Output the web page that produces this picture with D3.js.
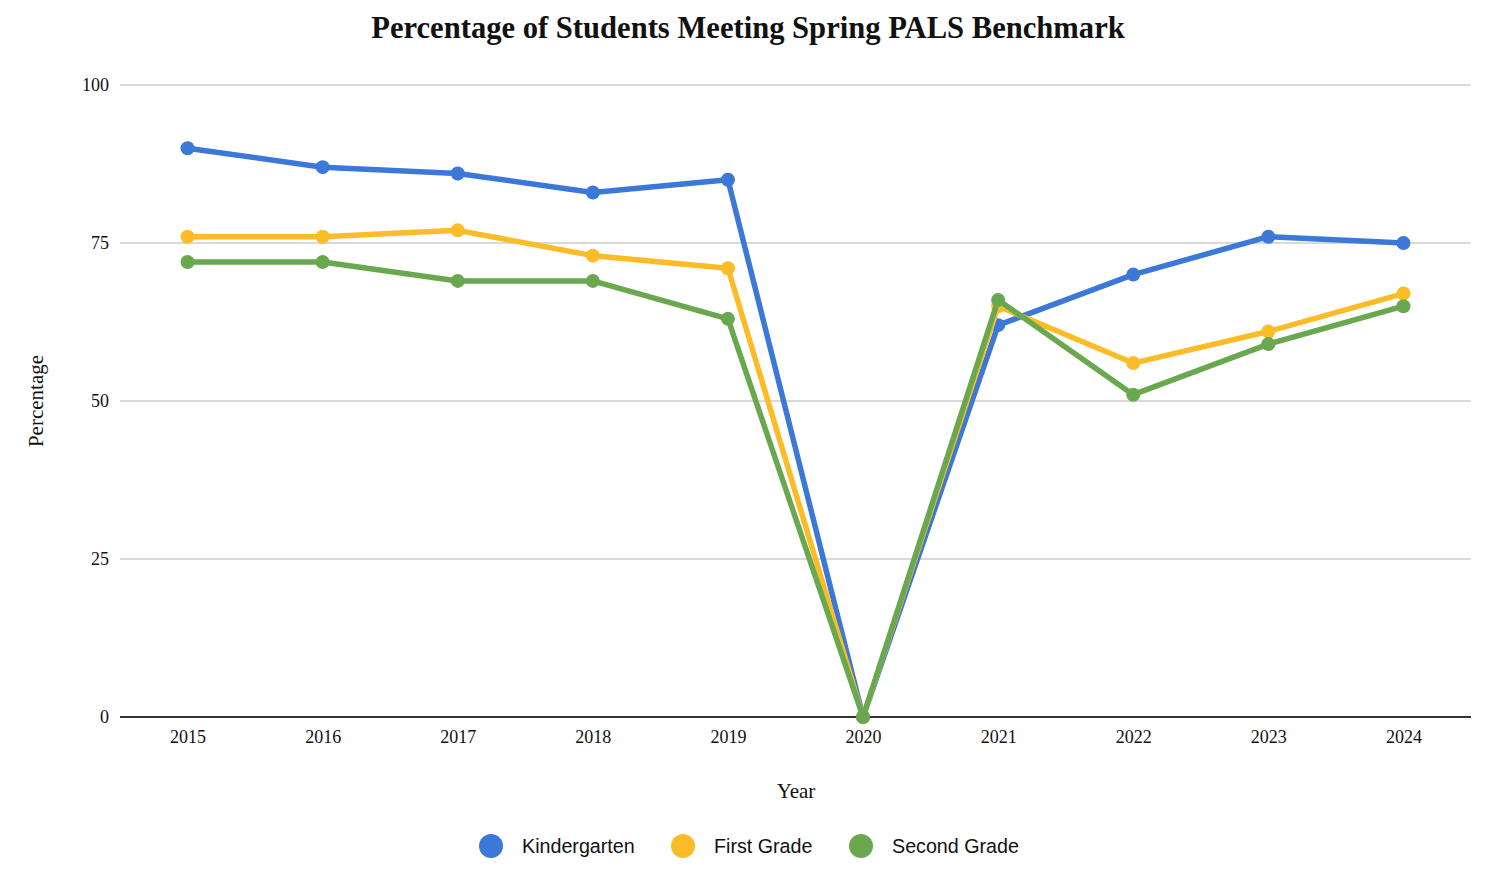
<!DOCTYPE html>
<html>
<head>
<meta charset="utf-8">
<script src="https://cdn.jsdelivr.net/npm/d3@7"></script>
<style>
  body { margin: 0; background: #fff; }
  svg text { fill: #111; }
</style>
</head>
<body>
<div id="chart"></div>
<script>
var years = ['2015', '2016', '2017', '2018', '2019', '2020', '2021', '2022', '2023', '2024'];
var kindergarten = [90, 87, 86, 83, 85, 0, 62, 70, 76, 75];
var firstGrade = [76, 76, 77, 73, 71, 0, 65, 56, 61, 67];
var secondGrade = [72, 72, 69, 69, 63, 0, 66, 51, 59, 65];
var yTicks = [0, 25, 50, 75, 100];
var seriesNames = ['Kindergarten', 'First Grade', 'Second Grade'];
var colors = ['#3c78d8', '#fbbc27', '#6aa84f'];

var w = 1500, h = 874;
var m = { top: 85, right: 29, bottom: 157, left: 120 };

var svg = d3.select('#chart')
            .append('svg')
            .attr('width', w)
            .attr('height', h);

var x = d3.scalePoint().domain(years).range([m.left, w - m.right]).padding(0.5);
var y = d3.scaleLinear().domain([0, 100]).range([h - m.bottom, m.top]);

// gridlines
svg.append('g')
  .selectAll('line')
  .data(yTicks.filter(function(d) { return d > 0; }))
  .enter().append('line')
    .attr('x1', m.left).attr('x2', w - m.right)
    .attr('y1', y).attr('y2', y)
    .attr('stroke', '#cccccc').attr('stroke-width', 1.5);

// y axis labels
var yAxis = svg.append('g')
  .attr('transform', 'translate(' + m.left + ',0)')
  .call(d3.axisLeft(y).tickValues(yTicks).tickSize(0).tickPadding(11));
yAxis.select('.domain').remove();
yAxis.selectAll('text')
  .style('font-family', '"Liberation Serif", "Times New Roman", serif')
  .style('font-size', '18px').attr('fill', '#111');

// x axis
var xAxis = svg.append('g')
  .attr('transform', 'translate(0,' + y(0) + ')')
  .call(d3.axisBottom(x).tickSize(0).tickPadding(13));
xAxis.select('.domain').attr('stroke', '#333').attr('stroke-width', 2)
  .attr('d', 'M' + m.left + ',0H' + (w - m.right));
xAxis.selectAll('text')
  .style('font-family', '"Liberation Serif", "Times New Roman", serif')
  .style('font-size', '18px').attr('fill', '#111');

// title + axis titles
svg.append('text')
  .attr('x', 748).attr('y', 38)
  .attr('text-anchor', 'middle')
  .style('font-family', '"Liberation Serif", "Times New Roman", serif')
  .style('font-size', '30.6px').style('font-weight', 'bold')
  .text('Percentage of Students Meeting Spring PALS Benchmark');

svg.append('text')
  .attr('x', 796).attr('y', 798)
  .attr('text-anchor', 'middle')
  .style('font-family', '"Liberation Serif", "Times New Roman", serif')
  .style('font-size', '21px')
  .text('Year');

svg.append('text')
  .attr('transform', 'translate(43,' + y(50) + ') rotate(-90)')
  .attr('text-anchor', 'middle')
  .style('font-family', '"Liberation Serif", "Times New Roman", serif')
  .style('font-size', '21px')
  .text('Percentage');

// lines
var allSeries = [kindergarten, firstGrade, secondGrade];
var line = d3.line()
  .x(function(d, i) { return x(years[i]); })
  .y(function(d) { return y(d); });

allSeries.forEach(function(s, k) {
  var g = svg.append('g');
  g.append('path')
    .datum(s)
    .attr('d', line)
    .attr('fill', 'none')
    .attr('stroke', colors[k])
    .attr('stroke-width', 5.5)
    .attr('stroke-linejoin', 'round');
  g.selectAll('circle')
    .data(s)
    .enter().append('circle')
      .attr('cx', function(d, i) { return x(years[i]); })
      .attr('cy', function(d) { return y(d); })
      .attr('r', 7)
      .attr('fill', colors[k]);
});

// legend
var legendX = [491, 683, 861];
var legend = svg.append('g')
  .selectAll('g')
  .data(seriesNames)
  .enter().append('g')
    .attr('transform', function(d, i) { return 'translate(' + legendX[i] + ',846)'; });
legend.append('circle')
  .attr('r', 12)
  .attr('fill', function(d, i) { return colors[i]; });
legend.append('text')
  .attr('x', 31).attr('dy', '0.35em')
  .style('font-family', '"Liberation Sans", Arial, sans-serif')
  .style('font-size', '19.7px')
  .attr('fill', '#222')
  .text(function(d) { return d; });
</script>
</body>
</html>
